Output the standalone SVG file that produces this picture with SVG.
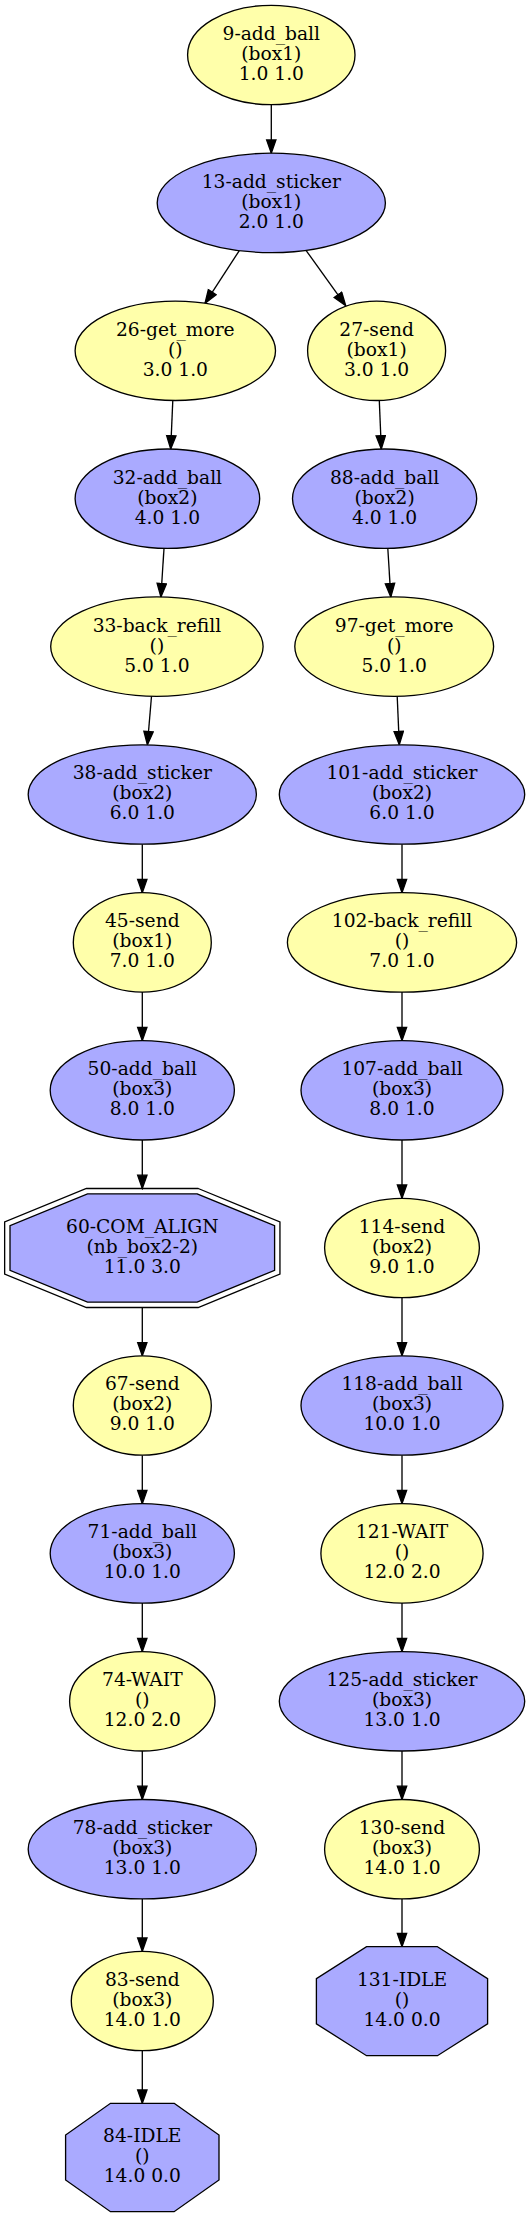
<svg xmlns="http://www.w3.org/2000/svg" width="530" height="2217" viewBox="0 0 530 2217">
<style>
.y{fill:#ffffaa;stroke:#000;stroke-width:1.33}
.b{fill:#aaaaff;stroke:#000;stroke-width:1.33}
.o{fill:none;stroke:#000;stroke-width:1.33}
text{font-family:"DejaVu Serif","Liberation Serif",serif;font-size:18.67px;text-anchor:middle;fill:#000}
#edges line{stroke:#000;stroke-width:1.33;marker-end:url(#ah)}
</style>
<defs>
<marker id="ah" markerUnits="userSpaceOnUse" markerWidth="16" markerHeight="12" refX="13.3" refY="4.67" orient="auto" viewBox="-1 -1 16 12">
<path d="M0,0 L13.3,4.67 L0,9.33 Z" fill="#000" stroke="#000" stroke-width="1.33"/>
</marker>
</defs>
<rect width="530" height="2217" fill="#fff"/>
<g id="edges">
<line x1="271.3" y1="104.7" x2="271.3" y2="153.2"/>
<line x1="239.3" y1="250.6" x2="205" y2="303.3"/>
<line x1="306" y1="250.3" x2="345.7" y2="305.7"/>
<line x1="172.8" y1="400.4" x2="170.7" y2="449"/>
<line x1="379.3" y1="400.4" x2="381.3" y2="449"/>
<line x1="164" y1="548.3" x2="160.9" y2="596.9"/>
<line x1="387.8" y1="548.3" x2="390.8" y2="596.9"/>
<line x1="151.5" y1="696.2" x2="147.4" y2="744.8"/>
<line x1="397.2" y1="696.2" x2="399.3" y2="744.8"/>
<line x1="142.3" y1="844.2" x2="142.3" y2="892.7"/>
<line x1="402" y1="844.2" x2="402" y2="892.7"/>
<line x1="142.3" y1="992.1" x2="142.3" y2="1040.6"/>
<line x1="402" y1="992.1" x2="402" y2="1040.6"/>
<line x1="142.3" y1="1140" x2="142.3" y2="1188.5"/>
<line x1="402" y1="1140" x2="402" y2="1198.3"/>
<line x1="142.3" y1="1307.5" x2="142.3" y2="1355.8"/>
<line x1="402" y1="1297.7" x2="402" y2="1355.8"/>
<line x1="142.3" y1="1455.2" x2="142.3" y2="1503.7"/>
<line x1="402" y1="1455.2" x2="402" y2="1503.7"/>
<line x1="142.3" y1="1603.1" x2="142.3" y2="1651.6"/>
<line x1="402" y1="1603.1" x2="402" y2="1651.6"/>
<line x1="142.3" y1="1751" x2="142.3" y2="1799.5"/>
<line x1="402" y1="1751" x2="402" y2="1799.5"/>
<line x1="142.3" y1="1898.9" x2="142.3" y2="1951.3"/>
<line x1="402" y1="1898.9" x2="402" y2="1946.7"/>
<line x1="142.3" y1="2050.7" x2="142.3" y2="2103.3"/>
</g>
<g id="n9"><ellipse class="y" cx="271.3" cy="55" rx="83.7" ry="49.7"/><text><tspan x="271.3" y="40">9-add_ball</tspan><tspan x="271.3" y="59.9">(box1)</tspan><tspan x="271.3" y="79.9">1.0 1.0</tspan></text></g>
<g id="n13"><ellipse class="b" cx="271.3" cy="202.9" rx="114.1" ry="49.7"/><text><tspan x="271.3" y="187.8">13-add_sticker</tspan><tspan x="271.3" y="207.8">(box1)</tspan><tspan x="271.3" y="227.8">2.0 1.0</tspan></text></g>
<g id="n26"><ellipse class="y" cx="175.3" cy="350.8" rx="100.2" ry="49.7"/><text><tspan x="175.3" y="335.7">26-get_more</tspan><tspan x="175.3" y="355.7">()</tspan><tspan x="175.3" y="375.7">3.0 1.0</tspan></text></g>
<g id="n27"><ellipse class="y" cx="376.6" cy="350.8" rx="69" ry="49.7"/><text><tspan x="376.6" y="335.7">27-send</tspan><tspan x="376.6" y="355.7">(box1)</tspan><tspan x="376.6" y="375.7">3.0 1.0</tspan></text></g>
<g id="n32"><ellipse class="b" cx="167.4" cy="498.7" rx="92.3" ry="49.7"/><text><tspan x="167.4" y="483.6">32-add_ball</tspan><tspan x="167.4" y="503.6">(box2)</tspan><tspan x="167.4" y="523.6">4.0 1.0</tspan></text></g>
<g id="n88"><ellipse class="b" cx="384.6" cy="498.7" rx="92.1" ry="49.7"/><text><tspan x="384.6" y="483.6">88-add_ball</tspan><tspan x="384.6" y="503.6">(box2)</tspan><tspan x="384.6" y="523.6">4.0 1.0</tspan></text></g>
<g id="n33"><ellipse class="y" cx="156.9" cy="646.6" rx="106.2" ry="49.7"/><text><tspan x="156.9" y="631.5">33-back_refill</tspan><tspan x="156.9" y="651.5">()</tspan><tspan x="156.9" y="671.5">5.0 1.0</tspan></text></g>
<g id="n97"><ellipse class="y" cx="394.2" cy="646.6" rx="99.4" ry="49.7"/><text><tspan x="394.2" y="631.5">97-get_more</tspan><tspan x="394.2" y="651.5">()</tspan><tspan x="394.2" y="671.5">5.0 1.0</tspan></text></g>
<g id="n38"><ellipse class="b" cx="142.3" cy="794.5" rx="114.1" ry="49.7"/><text><tspan x="142.3" y="779.4">38-add_sticker</tspan><tspan x="142.3" y="799.4">(box2)</tspan><tspan x="142.3" y="819.4">6.0 1.0</tspan></text></g>
<g id="n101"><ellipse class="b" cx="402" cy="794.5" rx="122.7" ry="49.7"/><text><tspan x="402" y="779.4">101-add_sticker</tspan><tspan x="402" y="799.4">(box2)</tspan><tspan x="402" y="819.4">6.0 1.0</tspan></text></g>
<g id="n45"><ellipse class="y" cx="142.3" cy="942.4" rx="69" ry="49.7"/><text><tspan x="142.3" y="927.3">45-send</tspan><tspan x="142.3" y="947.3">(box1)</tspan><tspan x="142.3" y="967.3">7.0 1.0</tspan></text></g>
<g id="n102"><ellipse class="y" cx="402" cy="942.4" rx="114.6" ry="49.7"/><text><tspan x="402" y="927.3">102-back_refill</tspan><tspan x="402" y="947.3">()</tspan><tspan x="402" y="967.3">7.0 1.0</tspan></text></g>
<g id="n50"><ellipse class="b" cx="142.3" cy="1090.3" rx="92.1" ry="49.7"/><text><tspan x="142.3" y="1075.2">50-add_ball</tspan><tspan x="142.3" y="1095.2">(box3)</tspan><tspan x="142.3" y="1115.2">8.0 1.0</tspan></text></g>
<g id="n107"><ellipse class="b" cx="402" cy="1090.3" rx="101" ry="49.7"/><text><tspan x="402" y="1075.2">107-add_ball</tspan><tspan x="402" y="1095.2">(box3)</tspan><tspan x="402" y="1115.2">8.0 1.0</tspan></text></g>
<g id="n60"><polygon class="b" points="197.1,1193.85 274.6,1225.6 274.6,1270.4 197.1,1302.15 87.5,1302.15 10,1270.4 10,1225.6 87.5,1193.85"/><polygon class="o" points="198.2,1188.5 279.95,1222 279.95,1274 198.2,1307.5 86.4,1307.5 4.65,1274 4.65,1222 86.4,1188.5"/><text><tspan x="142.3" y="1232.9">60-COM_ALIGN</tspan><tspan x="142.3" y="1252.9">(nb_box2-2)</tspan><tspan x="142.3" y="1272.9">11.0 3.0</tspan></text></g>
<g id="n114"><ellipse class="y" cx="402" cy="1248" rx="77.4" ry="49.7"/><text><tspan x="402" y="1232.9">114-send</tspan><tspan x="402" y="1252.9">(box2)</tspan><tspan x="402" y="1272.9">9.0 1.0</tspan></text></g>
<g id="n67"><ellipse class="y" cx="142.3" cy="1405.5" rx="69" ry="49.7"/><text><tspan x="142.3" y="1390.4">67-send</tspan><tspan x="142.3" y="1410.4">(box2)</tspan><tspan x="142.3" y="1430.4">9.0 1.0</tspan></text></g>
<g id="n118"><ellipse class="b" cx="402" cy="1405.5" rx="101" ry="49.7"/><text><tspan x="402" y="1390.4">118-add_ball</tspan><tspan x="402" y="1410.4">(box3)</tspan><tspan x="402" y="1430.4">10.0 1.0</tspan></text></g>
<g id="n71"><ellipse class="b" cx="142.3" cy="1553.4" rx="92.1" ry="49.7"/><text><tspan x="142.3" y="1538.3">71-add_ball</tspan><tspan x="142.3" y="1558.3">(box3)</tspan><tspan x="142.3" y="1578.3">10.0 1.0</tspan></text></g>
<g id="n121"><ellipse class="y" cx="402" cy="1553.4" rx="81.1" ry="49.7"/><text><tspan x="402" y="1538.3">121-WAIT</tspan><tspan x="402" y="1558.3">()</tspan><tspan x="402" y="1578.3">12.0 2.0</tspan></text></g>
<g id="n74"><ellipse class="y" cx="142.3" cy="1701.3" rx="72.7" ry="49.7"/><text><tspan x="142.3" y="1686.2">74-WAIT</tspan><tspan x="142.3" y="1706.2">()</tspan><tspan x="142.3" y="1726.2">12.0 2.0</tspan></text></g>
<g id="n125"><ellipse class="b" cx="402" cy="1701.3" rx="122.7" ry="49.7"/><text><tspan x="402" y="1686.2">125-add_sticker</tspan><tspan x="402" y="1706.2">(box3)</tspan><tspan x="402" y="1726.2">13.0 1.0</tspan></text></g>
<g id="n78"><ellipse class="b" cx="142.3" cy="1849.2" rx="114.1" ry="49.7"/><text><tspan x="142.3" y="1834.1">78-add_sticker</tspan><tspan x="142.3" y="1854.1">(box3)</tspan><tspan x="142.3" y="1874.1">13.0 1.0</tspan></text></g>
<g id="n130"><ellipse class="y" cx="402" cy="1849.2" rx="77.4" ry="49.7"/><text><tspan x="402" y="1834.1">130-send</tspan><tspan x="402" y="1854.1">(box3)</tspan><tspan x="402" y="1874.1">14.0 1.0</tspan></text></g>
<g id="n83"><ellipse class="y" cx="142.3" cy="2001" rx="71" ry="49.7"/><text><tspan x="142.3" y="1985.9">83-send</tspan><tspan x="142.3" y="2005.9">(box3)</tspan><tspan x="142.3" y="2025.9">14.0 1.0</tspan></text></g>
<g id="n131"><polygon class="b" points="437.45,1946.7 487.6,1978.6 487.6,2023.8 437.45,2055.7 366.55,2055.7 316.4,2023.8 316.4,1978.6 366.55,1946.7"/><text><tspan x="402" y="1986.1">131-IDLE</tspan><tspan x="402" y="2006.1">()</tspan><tspan x="402" y="2026.1">14.0 0.0</tspan></text></g>
<g id="n84"><polygon class="b" points="174.1,2103.3 219,2135.05 219,2179.95 174.1,2211.7 110.5,2211.7 65.6,2179.95 65.6,2135.05 110.5,2103.3"/><text><tspan x="142.3" y="2142.4">84-IDLE</tspan><tspan x="142.3" y="2162.4">()</tspan><tspan x="142.3" y="2182.4">14.0 0.0</tspan></text></g>
</svg>
